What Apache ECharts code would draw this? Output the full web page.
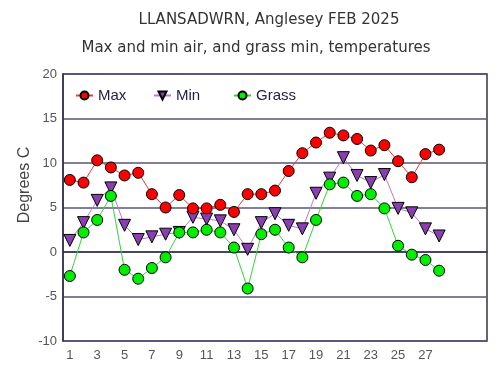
<!DOCTYPE html>
<html><head><meta charset="utf-8">
<script src="https://cdn.jsdelivr.net/npm/echarts@6/dist/echarts.min.js"></script>
<style>html,body{margin:0;padding:0;background:#fff}#c{width:503px;height:376px}</style>
</head><body><div id="c"></div>
<script>
var days = [1,2,3,4,5,6,7,8,9,10,11,12,13,14,15,16,17,18,19,20,21,22,23,24,25,26,27,28];
var maxTemp = [8.1,7.8,10.3,9.5,8.6,8.9,6.5,5.0,6.4,4.9,4.9,5.3,4.5,6.5,6.5,6.9,9.1,11.1,12.3,13.4,13.1,12.7,11.4,12.0,10.2,8.4,11.0,11.5];
var minTemp = [1.3,3.3,5.8,7.2,3.0,1.4,1.7,2.0,2.2,3.9,3.7,3.5,2.5,0.3,3.3,4.3,3.0,2.6,6.6,8.3,10.6,8.6,7.8,8.7,4.9,4.4,2.6,1.8];
var grassMin = [-2.7,2.2,3.6,6.3,-2.0,-3.0,-1.8,-0.6,2.2,2.2,2.5,2.2,0.5,-4.1,2.0,2.5,0.5,-0.6,3.6,7.6,7.8,6.3,6.5,4.9,0.7,-0.3,-0.9,-2.1];
var xTickLabels = [1,3,5,7,9,11,13,15,17,19,21,23,25,27];
var yTicks = [-10,-5,0,5,10,15,20];

function pairs(v){ return days.map(function(d,i){ return [d, v[i]]; }); }

var chart = echarts.init(document.getElementById('c'), null, {renderer:'canvas'});
var legendText = {color:'#22224a', fontSize:15, fontFamily:'Liberation Sans, Arial, sans-serif'};
var titleStyle = {fontSize:15, fontWeight:'normal', color:'#333', fontFamily:'DejaVu Sans, Verdana, sans-serif'};
chart.setOption({
  animation:false,
  backgroundColor:'#fff',
  title:[
    {text:'LLANSADWRN, Anglesey FEB 2025', left:264, top:8, textAlign:'center', textStyle:titleStyle},
    {text:'Max and min air, and grass min, temperatures', left:251, top:36, textAlign:'center', textStyle:titleStyle}
  ],
  graphic:[{type:'text', x:25, y:185, rotation:Math.PI/2,
    style:{text:'Degrees C', fill:'#444', font:'16px "Liberation Sans", Arial, sans-serif', align:'center', verticalAlign:'middle'}}],
  legend:[
    {data:['Max'], left:70, top:83, itemWidth:17, itemHeight:10, textStyle:legendText},
    {data:['Min'], left:148, top:83, itemWidth:17, itemHeight:10, textStyle:legendText},
    {data:['Grass'], left:228, top:83, itemWidth:17, itemHeight:10, textStyle:legendText}
  ],
  grid:{left:63, top:74, right:16, bottom:35, show:true, borderColor:'#33334d', borderWidth:1.5, backgroundColor:'transparent'},
  xAxis:{type:'value', min:0.5, max:31.5,
    axisLine:{show:true, lineStyle:{color:'#33334d', width:1.5}},
    axisTick:{show:false},
    splitLine:{show:false},
    axisLabel:{customValues:xTickLabels, color:'#555', fontSize:13, fontFamily:'Liberation Sans, Arial, sans-serif', margin:8}
  },
  yAxis:{type:'value', min:-10, max:20, interval:5,
    axisLine:{show:true, lineStyle:{color:'#33334d', width:1.5}},
    axisTick:{show:false},
    splitLine:{show:true, lineStyle:{color:'#56567a', width:1.5}},
    axisLabel:{customValues:yTicks, color:'#555', fontSize:13, fontFamily:'Liberation Sans, Arial, sans-serif', margin:6}
  },
  series:[
    {name:'Max', type:'line', data:pairs(maxTemp), symbol:'circle', symbolSize:11, z:3,
     lineStyle:{color:'#e83c3c', width:1}, itemStyle:{color:'#ff0000', borderColor:'#000', borderWidth:1}},
    {name:'Min', type:'line', data:pairs(minTemp), symbol:'triangle', symbolRotate:180, symbolSize:12, z:2,
     lineStyle:{color:'#c078d0', width:1}, itemStyle:{color:'#8a3fb0', borderColor:'#000', borderWidth:1}},
    {name:'Grass', type:'line', data:pairs(grassMin), symbol:'circle', symbolSize:11, z:4,
     lineStyle:{color:'#33d633', width:1}, itemStyle:{color:'#00ee00', borderColor:'#000', borderWidth:1}}
  ]
});
</script></body></html>
